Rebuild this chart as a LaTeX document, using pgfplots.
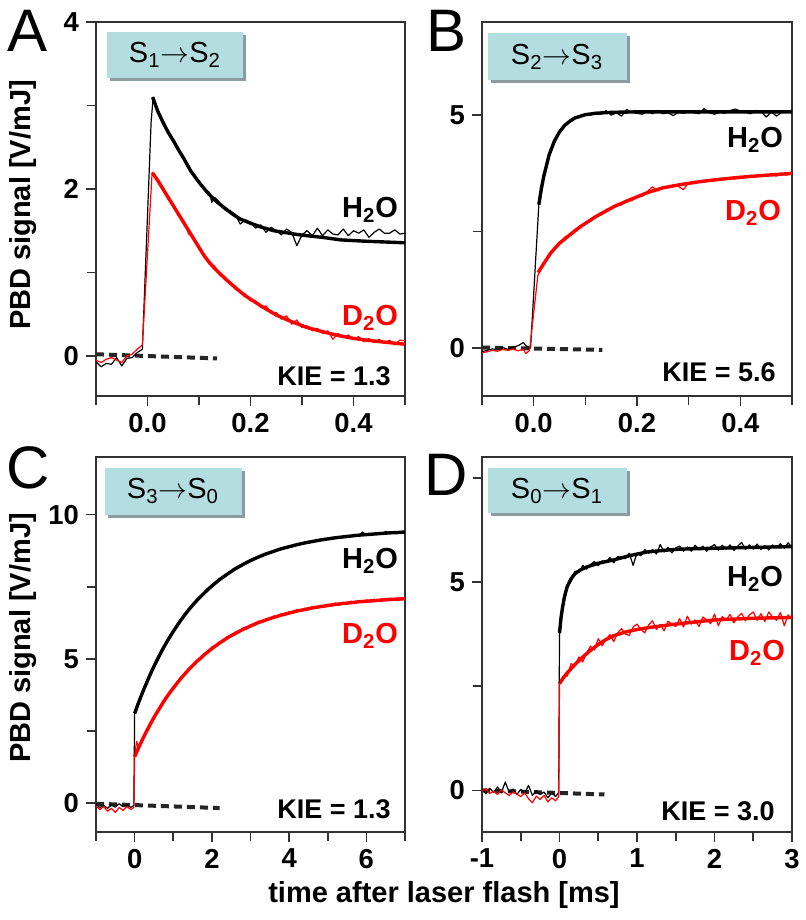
\documentclass[border=0pt]{standalone}
\usepackage{fontspec}
\setmainfont{Liberation Sans}
\usepackage{pgfplots}
\pgfplotsset{compat=1.18}
\definecolor{boxc}{RGB}{180,221,224}
\definecolor{shad}{RGB}{140,155,158}
\definecolor{axc}{RGB}{50,50,50}
\pgfplotsset{
  panel/.style={
    scale only axis, anchor=south west,
    axis line style={line width=0.8pt, axc},
    every tick/.style={line width=0.8pt, axc},
    tick align=outside, xtick pos=left, ytick pos=left,
    major tick length=5pt, minor tick length=4.5pt,
    ticklabel style={font=\fontsize{13.7}{16}\selectfont\bfseries},
    /pgf/number format/assume math mode=true,
    no markers,
  },
  fit/.style={line width=1.7pt, line join=round},
  dat/.style={line width=0.6pt, line join=round},
  base/.style={line width=2pt, black!85, dash pattern=on 4pt off 2.5pt},
}
\begin{document}
\begin{tikzpicture}
\useasboundingbox (0,0) rectangle (402.5pt,460pt);
% ---------------- A ----------------
\begin{axis}[panel, at={(48pt,262pt)}, width=154.5pt, height=187pt,
  xmin=-0.1, xmax=0.5, ymin=-0.48, ymax=4,
  xtick={0,0.2,0.4}, xticklabels={0.0,0.2,0.4}, minor xtick={-0.1,0.1,0.3,0.5},
  ytick={0,2,4}, minor ytick={1,3}]
\addplot[base] coordinates {(-0.1,0.02) (0.135,-0.03)};
\addplot[black, fit] coordinates {(0.01,3.10) (0.02,2.93) (0.03,2.80) (0.04,2.68) (0.051,2.57) (0.06,2.47) (0.07,2.37) (0.0835,2.22) (0.10,2.08) (0.116,1.96) (0.13,1.87) (0.148,1.78) (0.165,1.70) (0.18,1.64) (0.20,1.59) (0.22,1.545) (0.245,1.50) (0.27,1.475) (0.29,1.455) (0.31,1.44) (0.34,1.42) (0.375,1.39) (0.42,1.375) (0.46,1.365) (0.50,1.355)};
\addplot[red, fit] coordinates {(0.01,2.19) (0.02,2.10) (0.03,2.00) (0.04,1.90) (0.05,1.80) (0.06,1.70) (0.07,1.60) (0.08,1.50) (0.09,1.40) (0.10,1.30) (0.11,1.20) (0.12,1.12) (0.13,1.05) (0.14,0.99) (0.15,0.93) (0.16,0.875) (0.17,0.82) (0.18,0.77) (0.19,0.72) (0.20,0.68) (0.22,0.60) (0.25,0.49) (0.28,0.41) (0.31,0.34) (0.34,0.29) (0.37,0.245) (0.40,0.21) (0.43,0.185) (0.46,0.165) (0.50,0.14)};
\addplot[black, dat] coordinates {(-0.10,-0.07) (-0.09,-0.13) (-0.08,-0.09) (-0.07,-0.10) (-0.06,-0.02) (-0.05,-0.12) (-0.04,-0.03) (-0.03,-0.02) (-0.02,0.04) (-0.01,0.08) (0.007,2.80) (0.011,3.10) (0.02,2.95) (0.03,2.79) (0.04,2.70) (0.05,2.56) (0.06,2.49) (0.07,2.35) (0.08,2.28) (0.09,2.15) (0.10,2.10) (0.11,1.99) (0.12,1.96) (0.125,1.84) (0.13,1.90) (0.14,1.84) (0.15,1.75) (0.16,1.74) (0.17,1.70) (0.18,1.58) (0.19,1.63) (0.20,1.60) (0.21,1.53) (0.22,1.57) (0.23,1.48) (0.24,1.54) (0.25,1.50) (0.26,1.45) (0.27,1.52) (0.28,1.48) (0.29,1.32) (0.30,1.45) (0.31,1.50) (0.32,1.44) (0.33,1.53) (0.34,1.44) (0.35,1.51) (0.36,1.46) (0.37,1.45) (0.38,1.52) (0.39,1.44) (0.40,1.50) (0.41,1.47) (0.42,1.51) (0.43,1.42) (0.44,1.48) (0.45,1.52) (0.46,1.47) (0.47,1.47) (0.48,1.51) (0.49,1.46) (0.50,1.47)};
\addplot[red, dat] coordinates {(-0.10,-0.05) (-0.09,-0.08) (-0.08,-0.04) (-0.07,-0.02) (-0.06,-0.05) (-0.05,-0.08) (-0.04,0.00) (-0.03,0.02) (-0.02,0.08) (-0.01,0.13) (0.009,2.20) (0.02,2.12) (0.03,2.02) (0.04,1.88) (0.05,1.82) (0.06,1.68) (0.07,1.62) (0.08,1.46) (0.09,1.42) (0.10,1.28) (0.11,1.22) (0.12,1.10) (0.13,1.08) (0.14,0.97) (0.15,0.95) (0.16,0.86) (0.17,0.84) (0.18,0.76) (0.19,0.74) (0.20,0.66) (0.21,0.66) (0.22,0.58) (0.23,0.60) (0.24,0.51) (0.25,0.52) (0.26,0.44) (0.27,0.48) (0.28,0.38) (0.29,0.43) (0.30,0.34) (0.31,0.36) (0.32,0.30) (0.33,0.33) (0.34,0.27) (0.35,0.30) (0.36,0.20) (0.37,0.27) (0.38,0.23) (0.39,0.25) (0.40,0.20) (0.41,0.23) (0.42,0.17) (0.43,0.21) (0.44,0.16) (0.45,0.20) (0.46,0.15) (0.47,0.19) (0.48,0.13) (0.49,0.19) (0.50,0.18)};
\end{axis}
% ---------------- B ----------------
\begin{axis}[panel, at={(241pt,262pt)}, width=155pt, height=187pt,
  xmin=-0.1, xmax=0.5, ymin=-1.03, ymax=7,
  xtick={0,0.2,0.4}, xticklabels={0.0,0.2,0.4}, minor xtick={-0.1,0.1,0.3,0.5},
  ytick={0,5}, minor ytick={2.5}]
\addplot[base] coordinates {(-0.1,0.01) (0.133,-0.04)};
\addplot[black, fit] coordinates {(0.01,3.08) (0.015,3.43) (0.02,3.71) (0.03,4.15) (0.04,4.44) (0.05,4.64) (0.06,4.78) (0.07,4.87) (0.08,4.94) (0.10,5.01) (0.12,5.04) (0.15,5.06) (0.20,5.07) (0.50,5.07)};
\addplot[red, fit] coordinates {(0.0085,1.62) (0.02,1.82) (0.033,2.04) (0.05,2.25) (0.07,2.43) (0.091,2.61) (0.12,2.82) (0.156,3.04) (0.19,3.20) (0.221,3.34) (0.25,3.44) (0.285,3.51) (0.32,3.57) (0.35,3.61) (0.385,3.65) (0.415,3.68) (0.45,3.71) (0.50,3.75)};
\addplot[black, dat] coordinates {(-0.10,-0.08) (-0.09,-0.05) (-0.08,-0.02) (-0.07,-0.04) (-0.06,0.01) (-0.05,-0.03) (-0.04,0.02) (-0.03,0.05) (-0.02,0.12) (-0.015,0.05) (-0.01,0.02) (-0.006,0.00) (0.01,3.08) (0.02,3.72) (0.03,4.12) (0.04,4.46) (0.05,4.62) (0.06,4.80) (0.07,4.86) (0.08,4.96) (0.09,4.97) (0.10,5.03) (0.11,5.00) (0.12,5.06) (0.13,5.02) (0.14,5.10) (0.15,5.00) (0.16,5.05) (0.17,4.98) (0.18,5.12) (0.19,5.06) (0.20,5.04) (0.21,5.02) (0.22,5.08) (0.23,5.03) (0.24,5.10) (0.25,5.03) (0.26,5.05) (0.27,4.99) (0.28,5.06) (0.29,5.04) (0.30,5.07) (0.31,5.05) (0.32,5.03) (0.33,5.14) (0.34,5.05) (0.35,5.02) (0.36,5.06) (0.37,5.04) (0.38,5.10) (0.39,5.13) (0.40,5.09) (0.41,5.06) (0.42,5.03) (0.43,5.10) (0.44,5.08) (0.45,4.96) (0.46,5.07) (0.47,4.98) (0.48,5.06) (0.49,5.08) (0.50,5.07)};
\addplot[red, dat] coordinates {(-0.10,-0.10) (-0.09,-0.08) (-0.08,-0.05) (-0.07,-0.07) (-0.06,-0.03) (-0.05,-0.05) (-0.04,-0.02) (-0.03,-0.06) (-0.02,-0.03) (-0.015,-0.12) (-0.008,-0.05) (0.008,1.55) (0.02,1.83) (0.03,1.98) (0.04,2.16) (0.05,2.22) (0.06,2.38) (0.07,2.42) (0.08,2.55) (0.09,2.58) (0.10,2.70) (0.11,2.72) (0.12,2.84) (0.13,2.85) (0.14,2.96) (0.15,2.98) (0.16,3.06) (0.17,3.07) (0.18,3.18) (0.19,3.16) (0.20,3.26) (0.21,3.26) (0.22,3.36) (0.23,3.46) (0.24,3.37) (0.25,3.46) (0.26,3.44) (0.27,3.50) (0.28,3.47) (0.29,3.40) (0.30,3.55) (0.31,3.54) (0.32,3.58) (0.33,3.56) (0.34,3.61) (0.35,3.59) (0.36,3.63) (0.37,3.62) (0.38,3.66) (0.39,3.63) (0.40,3.69) (0.41,3.66) (0.42,3.71) (0.43,3.68) (0.44,3.72) (0.45,3.70) (0.46,3.73) (0.47,3.69) (0.48,3.75) (0.49,3.71) (0.50,3.76)};
\end{axis}
% ---------------- C ----------------
\begin{axis}[panel, at={(48pt,44pt)}, width=154.5pt, height=187.5pt,
  xmin=-1, xmax=7, ymin=-1, ymax=12,
  xtick={0,2,4,6}, minor xtick={-1,1,3,5,7},
  ytick={0,5,10}, minor ytick={2.5,7.5}]
\addplot[base] coordinates {(-1,-0.02) (2.2,-0.17)};
\addplot[black, fit] coordinates {(0.0,3.11) (0.1,3.48) (0.2,3.82) (0.3,4.14) (0.4,4.45) (0.5,4.74) (0.6,5.01) (0.7,5.27) (0.8,5.51) (0.9,5.74) (1.0,5.95) (1.1,6.15) (1.2,6.35) (1.3,6.53) (1.4,6.70) (1.5,6.86) (1.6,7.01) (1.7,7.15) (1.8,7.28) (1.9,7.41) (2.0,7.53) (2.2,7.75) (2.4,7.94) (2.6,8.12) (2.8,8.27) (3.0,8.41) (3.2,8.53) (3.4,8.64) (3.6,8.73) (3.8,8.82) (4.0,8.89) (4.2,8.96) (4.4,9.02) (4.6,9.07) (4.8,9.12) (5.0,9.16) (5.2,9.20) (5.4,9.23) (5.6,9.26) (5.8,9.29) (6.0,9.31) (6.2,9.33) (6.4,9.35) (6.6,9.37) (6.8,9.38) (7.0,9.40)};
\addplot[red, fit] coordinates {(0.0,1.61) (0.1,1.91) (0.2,2.20) (0.3,2.47) (0.4,2.72) (0.5,2.97) (0.6,3.19) (0.7,3.41) (0.8,3.62) (0.9,3.81) (1.0,3.99) (1.2,4.33) (1.4,4.63) (1.6,4.90) (1.8,5.14) (2.0,5.36) (2.2,5.55) (2.4,5.73) (2.6,5.88) (2.8,6.02) (3.0,6.14) (3.2,6.26) (3.4,6.35) (3.6,6.44) (3.8,6.52) (4.0,6.59) (4.2,6.66) (4.4,6.71) (4.6,6.77) (4.8,6.81) (5.0,6.85) (5.2,6.89) (5.4,6.92) (5.6,6.95) (5.8,6.98) (6.0,7.00) (6.2,7.02) (6.4,7.04) (6.6,7.06) (6.8,7.07) (7.0,7.09)};
\addplot[black, dat] coordinates {(-1.0,-0.05) (-0.9,-0.15) (-0.8,-0.08) (-0.7,-0.18) (-0.6,-0.06) (-0.5,-0.14) (-0.4,-0.02) (-0.3,-0.12) (-0.2,-0.05) (-0.1,-0.15) (-0.02,-0.08) (0.0,3.11) (0.1,3.50) (0.2,3.80) (0.3,4.17) (0.4,4.43) (0.5,4.77) (0.6,4.98) (0.7,5.30) (0.8,5.49) (0.9,5.77) (1.0,5.92) (1.1,6.18) (1.2,6.33) (1.3,6.56) (1.4,6.68) (1.5,6.89) (1.6,6.99) (1.7,7.18) (1.8,7.26) (1.9,7.44) (2.0,7.51) (2.1,7.66) (2.2,7.73) (2.3,7.88) (2.4,7.92) (2.5,8.06) (2.6,8.10) (2.7,8.22) (2.8,8.25) (2.9,8.37) (3.0,8.39) (3.1,8.50) (3.2,8.51) (3.3,8.61) (3.4,8.62) (3.5,8.71) (3.6,8.71) (3.7,8.80) (3.8,8.80) (3.9,8.88) (4.0,8.87) (4.1,8.95) (4.2,8.94) (4.3,9.01) (4.4,9.00) (4.5,9.07) (4.6,9.05) (4.7,9.12) (4.8,9.10) (4.9,9.17) (5.0,9.14) (5.1,9.21) (5.2,9.18) (5.3,9.24) (5.4,9.21) (5.5,9.28) (5.6,9.24) (5.7,9.32) (5.8,9.27) (5.9,9.40) (6.0,9.29) (6.1,9.35) (6.2,9.31) (6.3,9.38) (6.4,9.33) (6.5,9.42) (6.6,9.35) (6.7,9.40) (6.8,9.36) (6.9,9.42) (7.0,9.39)};
\addplot[red, dat] coordinates {(-1.0,-0.10) (-0.9,-0.22) (-0.8,-0.12) (-0.7,-0.28) (-0.6,-0.18) (-0.5,-0.32) (-0.4,-0.15) (-0.3,-0.25) (-0.2,-0.12) (-0.1,-0.22) (-0.02,-0.15) (0.0,1.61) (0.05,2.15) (0.1,1.92) (0.2,2.25) (0.3,2.45) (0.4,2.77) (0.5,2.93) (0.6,3.24) (0.7,3.37) (0.8,3.67) (0.9,3.78) (1.0,4.04) (1.1,4.13) (1.2,4.38) (1.3,4.44) (1.4,4.68) (1.5,4.73) (1.6,4.95) (1.7,4.98) (1.8,5.19) (1.9,5.21) (2.0,5.41) (2.1,5.42) (2.2,5.60) (2.3,5.60) (2.4,5.78) (2.5,5.77) (2.6,5.93) (2.7,5.91) (2.8,6.07) (2.9,6.04) (3.0,6.19) (3.1,6.16) (3.2,6.31) (3.3,6.26) (3.4,6.40) (3.5,6.36) (3.6,6.49) (3.7,6.44) (3.8,6.57) (3.9,6.51) (4.0,6.64) (4.1,6.58) (4.2,6.71) (4.3,6.64) (4.4,6.76) (4.5,6.70) (4.6,6.82) (4.7,6.75) (4.8,6.86) (4.9,6.79) (5.0,6.90) (5.1,6.83) (5.2,6.94) (5.3,6.86) (5.4,6.97) (5.5,6.90) (5.6,7.00) (5.7,6.93) (5.8,7.03) (5.9,6.95) (6.0,7.05) (6.1,6.98) (6.2,7.07) (6.3,7.00) (6.4,7.09) (6.5,7.02) (6.6,7.11) (6.7,7.03) (6.8,7.12) (6.9,7.05) (7.0,7.13)};
\end{axis}
% ---------------- D ----------------
\begin{axis}[panel, at={(241pt,44pt)}, width=155pt, height=187.5pt,
  xmin=-1, xmax=3, ymin=-1, ymax=8,
  xtick={-1,0,1,2,3}, minor xtick={-0.5,0.5,1.5,2.5},
  ytick={0,5}, minor ytick={2.5,7.5}]
\addplot[base] coordinates {(-1,0.0) (0.58,-0.1)};
\addplot[black, fit] coordinates {(0.0,3.77) (0.02,4.15) (0.04,4.40) (0.06,4.60) (0.08,4.76) (0.10,4.89) (0.15,5.08) (0.2,5.20) (0.27,5.29) (0.35,5.36) (0.5,5.45) (0.7,5.53) (0.9,5.63) (1.13,5.72) (1.35,5.76) (1.56,5.79) (2.0,5.81) (2.5,5.83) (3.0,5.85)};
\addplot[red, fit] coordinates {(0.0,2.56) (0.05,2.70) (0.1,2.82) (0.2,3.02) (0.3,3.20) (0.4,3.36) (0.5,3.50) (0.6,3.62) (0.7,3.71) (0.85,3.80) (1.0,3.86) (1.2,3.92) (1.5,3.99) (1.75,4.04) (2.0,4.09) (2.5,4.13) (3.0,4.15)};
\addplot[black, dat] coordinates {(-1.0,0.02) (-0.95,-0.08) (-0.9,0.05) (-0.85,-0.05) (-0.8,0.08) (-0.75,-0.06) (-0.7,0.20) (-0.65,-0.04) (-0.6,0.03) (-0.55,-0.10) (-0.5,0.02) (-0.45,-0.08) (-0.4,0.12) (-0.35,-0.12) (-0.3,-0.02) (-0.25,-0.10) (-0.2,-0.04) (-0.15,-0.18) (-0.1,-0.06) (-0.05,-0.15) (-0.01,-0.05) (0.0,3.77) (0.05,4.62) (0.10,4.94) (0.15,5.01) (0.20,5.26) (0.25,5.23) (0.30,5.40) (0.35,5.31) (0.40,5.42) (0.45,5.49) (0.50,5.39) (0.55,5.51) (0.60,5.47) (0.65,5.59) (0.70,5.46) (0.75,5.61) (0.80,5.59) (0.85,5.56) (0.90,5.69) (0.95,5.40) (1.00,5.70) (1.05,5.63) (1.10,5.78) (1.15,5.69) (1.20,5.78) (1.25,5.67) (1.30,5.90) (1.35,5.72) (1.40,5.83) (1.45,5.70) (1.50,5.82) (1.55,5.86) (1.60,5.74) (1.65,5.84) (1.70,5.74) (1.75,5.88) (1.80,5.78) (1.85,5.86) (1.90,5.74) (1.95,5.84) (2.00,5.90) (2.05,5.76) (2.10,5.88) (2.15,5.79) (2.20,5.89) (2.25,5.76) (2.30,5.86) (2.35,5.95) (2.40,5.78) (2.45,5.89) (2.50,5.79) (2.55,5.91) (2.60,5.78) (2.65,5.87) (2.70,5.77) (2.75,5.89) (2.80,5.82) (2.85,5.92) (2.90,5.81) (2.95,5.94) (3.00,5.83)};
\addplot[red, dat] coordinates {(-1.0,-0.02) (-0.95,0.04) (-0.9,-0.08) (-0.85,-0.02) (-0.8,-0.10) (-0.75,0.01) (-0.7,-0.06) (-0.65,-0.12) (-0.6,-0.04) (-0.55,-0.09) (-0.5,-0.15) (-0.45,-0.06) (-0.4,-0.20) (-0.35,-0.30) (-0.3,-0.14) (-0.25,-0.22) (-0.2,-0.12) (-0.15,-0.28) (-0.1,-0.18) (-0.05,-0.25) (-0.01,-0.15) (0.0,2.56) (0.05,2.75) (0.10,2.74) (0.15,3.04) (0.20,2.99) (0.25,3.20) (0.30,3.08) (0.35,3.30) (0.40,3.46) (0.45,3.37) (0.50,3.64) (0.55,3.47) (0.60,3.62) (0.65,3.74) (0.70,3.57) (0.75,3.78) (0.80,3.88) (0.85,3.75) (0.90,3.72) (0.95,3.92) (1.00,3.99) (1.05,3.86) (1.10,3.78) (1.15,3.97) (1.20,4.07) (1.25,3.86) (1.30,3.98) (1.35,3.83) (1.40,4.06) (1.45,3.99) (1.50,3.93) (1.55,4.12) (1.60,3.92) (1.65,4.18) (1.70,3.99) (1.75,4.09) (1.80,3.93) (1.85,4.16) (1.90,4.09) (1.95,4.00) (2.00,4.23) (2.05,3.95) (2.10,4.17) (2.15,4.09) (2.20,4.22) (2.25,4.02) (2.30,4.16) (2.35,4.25) (2.40,4.07) (2.45,4.21) (2.50,4.28) (2.55,4.08) (2.60,4.24) (2.65,4.05) (2.70,4.28) (2.75,4.16) (2.80,4.08) (2.85,4.27) (2.90,3.95) (2.95,4.21) (3.00,4.11)};
\end{axis}
% ---------------- annotations (pixel grid of the reference) ----------------
\begin{scope}[x=0.5pt, y=-0.5pt, shift={(0pt,460pt)}]
\tikzset{lab/.style={font=\fontsize{14.5}{17}\selectfont\bfseries, inner sep=0pt},
         let/.style={font=\fontsize{30}{34}\selectfont, inner sep=0pt},
         st/.style={font=\fontsize{14.5}{17}\selectfont, inner sep=0pt},
         kie/.style={font=\fontsize{13.5}{16}\selectfont\bfseries, inner sep=0pt}}
\node[let] at (28,31) {A};
\node[let] at (447,31) {B};
\node[let] at (28,468) {C};
\node[let] at (446,475) {D};
% boxes
\fill[shad] (110,35) rectangle (246,81);
\fill[boxc] (107,32) rectangle (243,78);
\node[st] at (175,55) {S\textsubscript{1}$\rightarrow$S\textsubscript{2}};
\fill[shad] (491,36) rectangle (630,83);
\fill[boxc] (488,33) rectangle (627,80);
\node[st] at (557,57) {S\textsubscript{2}$\rightarrow$S\textsubscript{3}};
\fill[shad] (108,471) rectangle (245,518);
\fill[boxc] (105,468) rectangle (242,515);
\node[st] at (173,491) {S\textsubscript{3}$\rightarrow$S\textsubscript{0}};
\fill[shad] (491,471) rectangle (630,516);
\fill[boxc] (488,468) rectangle (627,513);
\node[st] at (557,491) {S\textsubscript{0}$\rightarrow$S\textsubscript{1}};
% labels
\node[lab] at (370,210) {H\textsubscript{2}O};
\node[lab, red] at (370,318) {D\textsubscript{2}O};
\node[kie] at (334,376) {KIE = 1.3};
\node[lab] at (755,140) {H\textsubscript{2}O};
\node[lab, red] at (753,213) {D\textsubscript{2}O};
\node[kie] at (719,372) {KIE = 5.6};
\node[lab] at (370,561) {H\textsubscript{2}O};
\node[lab, red] at (370,636) {D\textsubscript{2}O};
\node[kie] at (334,809) {KIE = 1.3};
\node[lab] at (755,579) {H\textsubscript{2}O};
\node[lab, red] at (757,653) {D\textsubscript{2}O};
\node[kie] at (718,811) {KIE = 3.0};
% axis titles
\node[lab, rotate=90] at (23,205) {PBD signal [V/mJ]};
\node[lab, rotate=90] at (23,638) {PBD signal [V/mJ]};
\node[lab] at (444,895) {time after laser flash [ms]};
\end{scope}
\end{tikzpicture}
\end{document}
